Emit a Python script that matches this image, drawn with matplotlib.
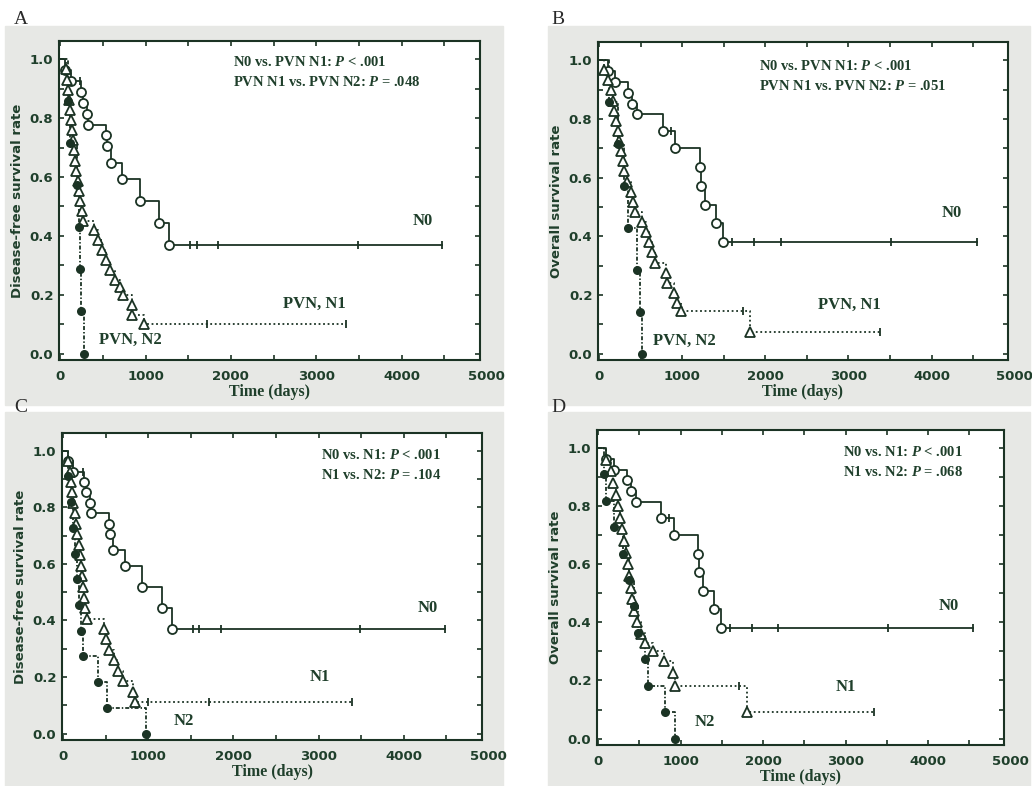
import numpy as np
import matplotlib
matplotlib.use('Agg')
import matplotlib.pyplot as plt
from matplotlib.patches import Rectangle
from matplotlib.ticker import MultipleLocator

plt.rcParams['mathtext.fontset'] = 'custom'
plt.rcParams['mathtext.it'] = 'Liberation Serif:italic:bold'
plt.rcParams['mathtext.rm'] = 'Liberation Serif:bold'

# ---- data (time in days, survival rate) ----
# N0 group, disease-free survival (panels A and C)
dfs_n0_t = [60, 120, 240, 270, 310, 330, 540, 545, 590, 720, 930, 1160, 1275]
dfs_n0_s = [0.963, 0.926, 0.889, 0.852, 0.815, 0.778, 0.741, 0.704, 0.648, 0.593, 0.519, 0.444, 0.370]
dfs_n0_cens = [230, 1520, 1600, 1850, 3490, 4480]

# N0 group, overall survival (panels B and D)
os_n0_t = [100, 190, 345, 400, 460, 765, 915, 1215, 1225, 1275, 1405, 1490]
os_n0_s = [0.963, 0.926, 0.889, 0.852, 0.815, 0.76, 0.70, 0.635, 0.572, 0.508, 0.445, 0.38]
os_n0_cens = [860, 1596, 1859, 2182, 3515, 4545]

# A: PVN N1 / PVN N2, disease-free
a_n1_t = [65, 80, 95, 105, 115, 125, 140, 150, 160, 175, 190, 205, 220, 235, 250, 270,
          390, 448, 487, 538, 585, 643, 702, 741, 838, 845, 982]
a_n1_s = [0.966, 0.931, 0.897, 0.862, 0.828, 0.793, 0.759, 0.724, 0.690, 0.655, 0.621, 0.586,
          0.552, 0.517, 0.483, 0.449, 0.42, 0.386, 0.352, 0.318, 0.284, 0.25, 0.227, 0.199,
          0.165, 0.13, 0.10]
a_n1_cens = [1715, 3353]
a_n2_t = [95, 115, 200, 222, 226, 246, 273]
a_n2_s = [0.857, 0.714, 0.571, 0.429, 0.286, 0.143, 0.0]

# B: PVN N1 / PVN N2, overall
b_n1_t = [60, 110, 140, 160, 180, 200, 220, 240, 260, 280, 300, 340, 380, 405, 428,
          517, 560, 600, 640, 671, 800, 820, 901, 941, 982, 1818]
b_n1_s = [0.966, 0.931, 0.897, 0.862, 0.828, 0.793, 0.759, 0.724, 0.690, 0.655, 0.621,
          0.586, 0.552, 0.517, 0.483, 0.448, 0.414, 0.379, 0.345, 0.310, 0.276, 0.241,
          0.207, 0.172, 0.145, 0.073]
b_n1_cens = [1729, 3374]
b_n2_t = [120, 220, 300, 348, 457, 489, 517]
b_n2_s = [0.857, 0.714, 0.571, 0.429, 0.286, 0.143, 0.0]

# C: N1 / N2, disease-free
c_n1_t = [60, 75, 90, 105, 120, 135, 150, 165, 180, 195, 205, 215, 230, 245, 258, 277,
          482, 505, 541, 600, 648, 700, 818, 838]
c_n1_s = [0.963, 0.926, 0.889, 0.852, 0.815, 0.778, 0.741, 0.704, 0.667, 0.630, 0.593,
          0.556, 0.519, 0.481, 0.444, 0.407, 0.370, 0.333, 0.296, 0.259, 0.222, 0.185,
          0.148, 0.111]
c_n1_cens = [996, 1708, 3387]
c_n2_t = [60, 90, 120, 140, 160, 180, 205, 237, 403, 514, 976]
c_n2_s = [0.909, 0.818, 0.727, 0.636, 0.545, 0.455, 0.364, 0.273, 0.182, 0.091, 0.0]

# D: N1 / N2, overall
d_n1_t = [90, 150, 180, 212, 240, 265, 290, 314, 335, 355, 375, 395, 415, 437, 470, 518,
          567, 661, 792, 902, 935, 1800]
d_n1_s = [0.96, 0.92, 0.88, 0.84, 0.80, 0.76, 0.72, 0.68, 0.64, 0.60, 0.56, 0.52, 0.48,
          0.44, 0.40, 0.36, 0.33, 0.30, 0.267, 0.227, 0.18, 0.09]
d_n1_cens = [1710, 3340]
d_n2_t = [70, 90, 190, 300, 370, 430, 480, 567, 608, 804, 935]
d_n2_s = [0.909, 0.818, 0.727, 0.636, 0.545, 0.455, 0.364, 0.273, 0.182, 0.091, 0.0]

INK = '#1b3324'
TXT = '#1f3f2b'
SERIF = 'Liberation Serif'


def km(ax, t, s, cens, ls, marker, mfc, ms):
    x = np.r_[0, t]
    y = np.r_[1.0, s]
    if cens and max(cens) > t[-1]:
        x = np.r_[x, max(cens)]
        y = np.r_[y, s[-1]]
    ax.step(x, y, where='post', color=INK, lw=1.3, ls=ls, zorder=2)
    ax.plot(t, s, ls='none', marker=marker, mfc=mfc, mec=INK, mew=1.3, ms=ms, zorder=3)
    if cens:
        idx = np.searchsorted(x, cens, side='right') - 1
        ax.plot(cens, y[idx], ls='none', marker='|', color=INK, ms=5.5, mew=1.3, zorder=3)


def panel(rect, ylabel, n0, n1, n2, ptxt, ptxt_pos, lab_n1, lab_n2, lpos):
    ax = fig.add_axes(rect, zorder=2)
    km(ax, *n0, ls='-', marker='o', mfc='white', ms=6.5)
    km(ax, *n1, ls=(0, (1, 1.5)), marker='^', mfc='white', ms=7)
    km(ax, *n2, ls=(0, (2.2, 1.1, 0.8, 1.1)), marker='o', mfc=INK, ms=5.2)
    ax.set_xlim(-15, 4920)
    ax.set_ylim(-0.022, 1.062)
    ax.xaxis.set_major_locator(MultipleLocator(1000))
    ax.xaxis.set_minor_locator(MultipleLocator(500))
    ax.yaxis.set_major_locator(MultipleLocator(0.2))
    ax.yaxis.set_minor_locator(MultipleLocator(0.1))
    ax.tick_params(which='both', direction='in', top=True, right=True, color=INK,
                   length=3.5, width=1.2, labelcolor=TXT)
    ax.tick_params(axis='x', pad=7)
    ax.tick_params(axis='y', pad=4)
    ax.yaxis.set_major_formatter(plt.FuncFormatter(lambda v, p: f'{v:.1f}'))
    for lab in ax.get_xticklabels() + ax.get_yticklabels():
        lab.set_fontweight('bold')
        lab.set_fontsize(9.5)
    ax.annotate('5000', xy=(5000, 0), xycoords=('data', 'axes fraction'),
                xytext=(0, -7), textcoords='offset points', ha='center', va='top',
                fontsize=9.5, fontweight='bold', color=TXT, annotation_clip=False)
    for sp in ax.spines.values():
        sp.set_linewidth(1.5)
        sp.set_color(INK)
    ax.set_xlabel('Time (days)', family=SERIF, fontweight='bold', fontsize=11.5, color=TXT,
                  labelpad=1)
    ax.set_ylabel(ylabel, fontweight='bold', fontsize=9.5, color=TXT, labelpad=4)
    ax.text(ptxt_pos[0], ptxt_pos[1], ptxt[0], family=SERIF, fontweight='bold',
            fontsize=10.5, color=TXT, va='center')
    ax.text(ptxt_pos[0], ptxt_pos[1] - 0.068, ptxt[1], family=SERIF, fontweight='bold',
            fontsize=10.5, color=TXT, va='center')
    for txt, (x, y) in zip(['N0', lab_n1, lab_n2], lpos):
        ax.text(x, y, txt, family=SERIF, fontweight='bold', fontsize=12, color=TXT,
                ha='center', va='center')
    return ax


fig = plt.figure(figsize=(10.32, 7.86), dpi=100, facecolor='white')
W, H = 1032, 786
for x0, y0, x1, y1 in [(5, 26, 503, 405), (548, 26, 1030, 405),
                       (5, 412, 503, 786), (548, 412, 1030, 786)]:
    fig.patches.append(Rectangle((x0 / W, 1 - y1 / H), (x1 - x0) / W, (y1 - y0) / H,
                                 transform=fig.transFigure, color='#e7e8e5', zorder=-10))

panel([59 / W, 1 - 360 / H, 421 / W, 319 / H], 'Disease-free survival rate',
      (dfs_n0_t, dfs_n0_s, dfs_n0_cens), (a_n1_t, a_n1_s, a_n1_cens), (a_n2_t, a_n2_s, []),
      ('N0 vs. PVN N1: $P$ < .001', 'PVN N1 vs. PVN N2: $P$ = .048'), (2030, 0.99),
      'PVN, N1', 'PVN, N2', [(4250, 0.449), (2982, 0.17), (819, 0.045)])
panel([598 / W, 1 - 360 / H, 410 / W, 318 / H], 'Overall survival rate',
      (os_n0_t, os_n0_s, os_n0_cens), (b_n1_t, b_n1_s, b_n1_cens), (b_n2_t, b_n2_s, []),
      ('N0 vs. PVN N1: $P$ < .001', 'PVN N1 vs. PVN N2: $P$ = .051'), (1927, 0.98),
      'PVN, N1', 'PVN, N2', [(4242, 0.48), (3010, 0.167), (1030, 0.043)])
panel([62 / W, 1 - 740 / H, 420 / W, 307 / H], 'Disease-free survival rate',
      (dfs_n0_t, dfs_n0_s, dfs_n0_cens), (c_n1_t, c_n1_s, c_n1_cens), (c_n2_t, c_n2_s, []),
      ('N0 vs. N1: $P$ < .001', 'N1 vs. N2: $P$ = .104'), (3028, 0.983),
      'N1', 'N2', [(4277, 0.443), (3012, 0.2), (1411, 0.046)])
panel([597 / W, 1 - 745 / H, 407 / W, 315 / H], 'Overall survival rate',
      (os_n0_t, os_n0_s, os_n0_cens), (d_n1_t, d_n1_s, d_n1_cens), (d_n2_t, d_n2_s, []),
      ('N0 vs. N1: $P$ < .001', 'N1 vs. N2: $P$ = .068'), (2966, 0.986),
      'N1', 'N2', [(4253, 0.456), (3008, 0.177), (1294, 0.057)])

for letter, x, y in [('A', 21, 20), ('B', 558, 20), ('C', 21, 408), ('D', 558, 408)]:
    fig.text(x / W, 1 - y / H, letter, family=SERIF, fontsize=14, color='#2a2a2a',
             ha='center', va='center')

fig.savefig('out.png', dpi=100, facecolor=fig.get_facecolor())
